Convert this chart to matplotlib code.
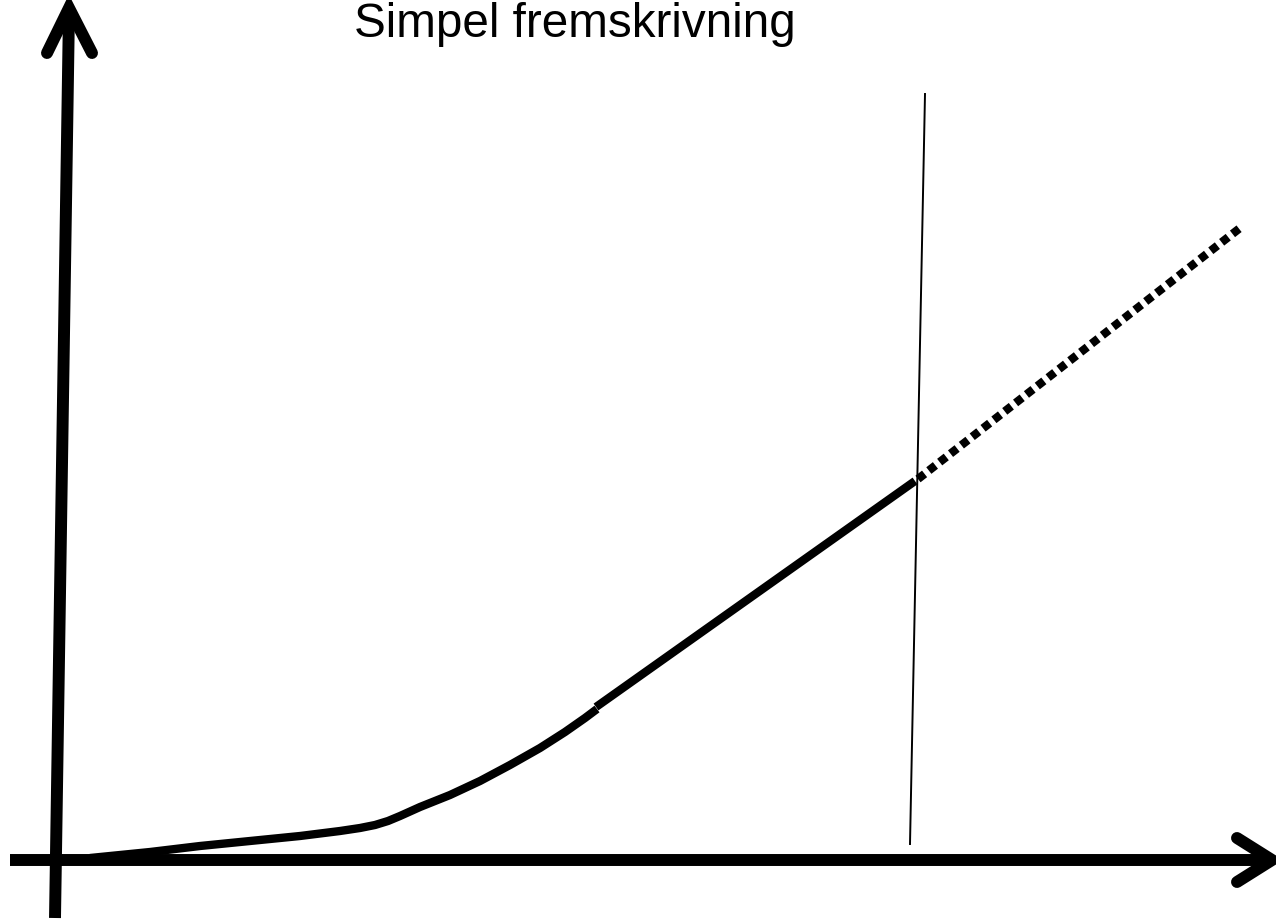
import matplotlib.pyplot as plt

# Skitse i pixelkoordinater (x mod hoejre, y nedad)
titel = "Simpel fremskrivning"

# historisk kurve (blød start)
kurve_x = [90, 150, 200, 250, 300, 340, 360, 375, 388, 400, 420, 450, 480, 510,
           540, 565, 585, 597]
kurve_y = [858, 852, 846, 841, 836, 831, 828, 825, 821, 816, 807, 795, 781, 765,
           748, 732, 718, 709]

# lineaer del frem til skillelinjen
lineaer_x = [596, 915]
lineaer_y = [707, 481]

# fremskrivning (prikket)
prognose_x = [918, 1240]
prognose_y = [479, 228]

# lodret skillelinje
skille_x = [925, 910]
skille_y = [94, 844]

# akser med pile
yakse_x = [55, 69]
yakse_y = [918, 10]
ypil_x = [47, 69, 92]
ypil_y = [53, 8, 53]
xakse_x = [10, 1272]
xakse_y = [860, 860]
xpil_x = [1237, 1272, 1237]
xpil_y = [838, 860, 882]

fig = plt.figure(figsize=(12.76, 9.21), dpi=100)
ax = fig.add_axes([0, 0, 1, 1])
ax.set_xlim(0, 1276)
ax.set_ylim(921, 0)
ax.axis('off')

akse_lw = 8.6
ax.plot(yakse_x, yakse_y, color='black', lw=akse_lw, solid_capstyle='butt')
ax.plot(ypil_x, ypil_y, color='black', lw=akse_lw, solid_capstyle='round', solid_joinstyle='miter')
ax.plot(xakse_x, xakse_y, color='black', lw=akse_lw, solid_capstyle='butt')
ax.plot(xpil_x, xpil_y, color='black', lw=akse_lw, solid_capstyle='round', solid_joinstyle='miter')

ax.plot(kurve_x, kurve_y, color='black', lw=6.0, solid_capstyle='butt',
        solid_joinstyle='round')
ax.plot(lineaer_x, lineaer_y, color='black', lw=6.0, solid_capstyle='butt')
ax.plot(prognose_x, prognose_y, color='black', lw=6.0, linestyle=(0, (1, 0.65)),
        dash_capstyle='butt')

ax.plot(skille_x, skille_y, color='black', lw=1.4)

ax.text(575, 37, titel, ha='center', va='baseline', fontsize=34.3,
        family=['Liberation Sans', 'DejaVu Sans'])

fig.savefig('out.png', dpi=100)
